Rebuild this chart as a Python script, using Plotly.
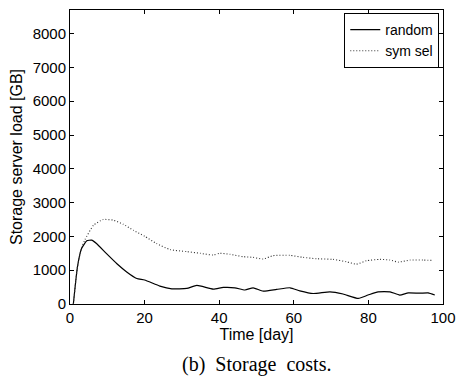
import plotly.graph_objects as go

days_random = [0.9, 2.0, 3.1, 4.5, 5.8, 7.1, 9.8, 12.5, 15.2, 17.9, 20.0, 24.1, 27.3, 31.3, 34.0,
               38.4, 41.1, 44.2, 46.9, 49.1, 51.8, 55.4, 59.0, 61.6, 65.2, 69.7, 73.2, 77.3,
               79.9, 82.6, 85.8, 88.4, 90.7, 93.8, 96.0, 97.8]
load_random = [0, 1100, 1640, 1870, 1890, 1790, 1490, 1200, 950, 755, 710, 530, 450, 460, 550,
               440, 490, 480, 415, 480, 380, 430, 480, 390, 310, 360, 295, 165,
               265, 360, 360, 265, 330, 320, 330, 265]

days_sym = [0.9, 2.0, 3.1, 4.0, 6.3, 8.9, 11.6, 14.3, 17.0, 20.0, 23.2, 26.8, 31.3, 34.9, 38.4,
            40.2, 42.9, 46.4, 49.1, 51.8, 54.4, 59.0, 62.5, 66.1, 70.5, 74.1, 76.8, 79.5,
            83.1, 85.8, 88.0, 91.2, 94.7, 97.4]
load_sym = [0, 1100, 1660, 1900, 2330, 2500, 2480, 2360, 2180, 2005, 1790, 1610, 1550, 1500, 1450,
            1500, 1470, 1400, 1380, 1330, 1430, 1440, 1380, 1340, 1320, 1250, 1180, 1280,
            1320, 1300, 1240, 1300, 1300, 1290]

x_ticks = [0, 20, 40, 60, 80, 100]
y_ticks = [0, 1000, 2000, 3000, 4000, 5000, 6000, 7000, 8000]

font = "Liberation Sans, Arial, sans-serif"

fig = go.Figure()
fig.add_trace(go.Scatter(x=days_random, y=load_random, mode="lines", name="random",
                         line=dict(color="black", width=1.2, shape="spline", smoothing=0.5)))
fig.add_trace(go.Scatter(x=days_sym, y=load_sym, mode="lines", name="sym sel",
                         line=dict(color="#333333", width=1.1, dash="1px,2px", shape="spline", smoothing=0.5)))

axis_common = dict(showline=True, linecolor="black", linewidth=1, mirror="ticks",
                   ticks="inside", ticklen=4, tickcolor="black", showgrid=False, zeroline=False,
                   automargin=False,
                   tickfont=dict(family=font, size=15, color="black"))

fig.update_layout(
    width=468, height=381,
    margin=dict(l=70, r=25, t=10, b=77),
    paper_bgcolor="white", plot_bgcolor="white",
    font=dict(family=font, size=15, color="black"),
    showlegend=True,
    legend=dict(x=0.99, y=0.99, xanchor="right", yanchor="top",
                bordercolor="black", borderwidth=1, bgcolor="white",
                font=dict(family=font, size=14, color="black"),
                tracegroupgap=0, itemwidth=30),
    xaxis=dict(range=[0, 100], tickvals=x_ticks,
               title=dict(text="Time [day]", standoff=0, font=dict(family=font, size=16)),
               **axis_common),
    yaxis=dict(range=[0, 8700], tickvals=y_ticks,
               title=dict(text="Storage server load [GB]", standoff=6, font=dict(family=font, size=16)),
               **axis_common),
)

fig.add_annotation(text="(b)  Storage  costs.", xref="paper", yref="paper",
                   x=0.5, y=-0.207, xanchor="center", yanchor="middle", showarrow=False,
                   font=dict(family="Liberation Serif, Times New Roman, serif", size=20, color="black"))

fig.write_html("out.html", config={"displayModeBar": False},
               post_script="document.body.style.margin='0';document.body.style.padding='0';")
